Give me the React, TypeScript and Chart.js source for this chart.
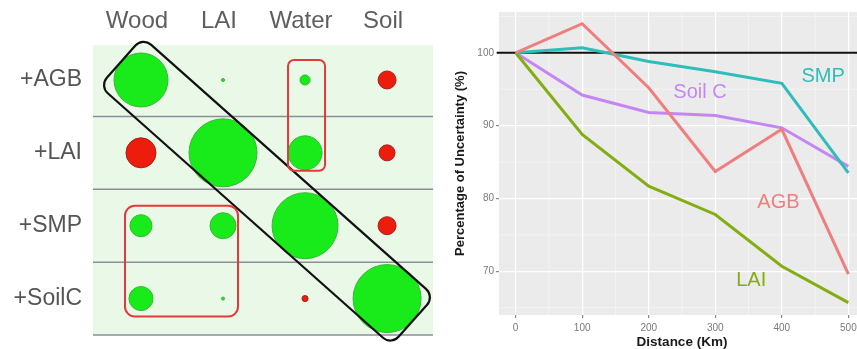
import React, { useEffect, useRef } from "react";
import { Chart, registerables } from "chart.js";

Chart.register(...registerables);
Chart.defaults.font.family = "'Liberation Sans', Arial, sans-serif";

// ---------- Left panel: contribution matrix ----------
const columns = ["Wood", "LAI", "Water", "Soil"];
const rowLabels = ["+AGB", "+LAI", "+SMP", "+SoilC"];
// signed relative contribution (positive = reduction, negative = increase)
const agbRow = [63, 0.2, 2.2, -7];
const laiRow = [-19.5, 100, 25, -5.5];
const smpRow = [10.5, 14.6, 94, -7];
const soilcRow = [12.5, 0.2, -0.8, 100];

// ---------- Right panel: uncertainty vs distance ----------
const distance = [0, 100, 200, 300, 400, 500];
const smp = [100, 100.7, 98.8, 97.4, 95.8, 83.5];
const agb = [100, 104, 95.2, 83.7, 89.5, 69.6];
const soilC = [100, 94.2, 91.8, 91.4, 89.7, 84.4];
const lai = [100, 88.8, 81.7, 77.8, 70.7, 65.7];
const xTicks = [0, 100, 200, 300, 400, 500];
const yTicks = [70, 80, 90, 100];
const xMinor = [50, 150, 250, 350, 450];
const yMinor = [65, 75, 85, 95, 105];
const referenceLevel = 100;

const matrix = [agbRow, laiRow, smpRow, soilcRow];
const bubbleRadius = (v: number) => 34 * Math.sqrt(Math.abs(v) / 100);

function roundRectPath(ctx: CanvasRenderingContext2D, x: number, y: number, w: number, h: number, r: number) {
  ctx.beginPath();
  ctx.moveTo(x + r, y);
  ctx.lineTo(x + w - r, y);
  ctx.arcTo(x + w, y, x + w, y + r, r);
  ctx.lineTo(x + w, y + h - r);
  ctx.arcTo(x + w, y + h, x + w - r, y + h, r);
  ctx.lineTo(x + r, y + h);
  ctx.arcTo(x, y + h, x, y + h - r, r);
  ctx.lineTo(x, y + r);
  ctx.arcTo(x, y, x + r, y, r);
  ctx.closePath();
}

const zeroPad = (s: any) => {
  s.paddingLeft = 0;
  s.paddingRight = 0;
  s.paddingTop = 0;
  s.paddingBottom = 0;
};

function MatrixChart() {
  const ref = useRef<HTMLCanvasElement | null>(null);
  useEffect(() => {
    if (!ref.current) return;
    const points = matrix.flatMap((row, ri) => row.map((v, ci) => ({ x: ci, y: ri, v })));
    const panelPlugin = {
      id: "panel",
      beforeDraw(chart: any) {
        const { ctx, chartArea: a } = chart;
        ctx.save();
        ctx.fillStyle = "#eaf8e8";
        ctx.fillRect(a.left, a.top, a.right - a.left, a.bottom - a.top);
        ctx.restore();
      },
      beforeDatasetsDraw(chart: any) {
        const { ctx, chartArea: a, scales } = chart;
        ctx.save();
        ctx.strokeStyle = "#8d8d98";
        ctx.lineWidth = 1.5;
        rowLabels.forEach((_, i) => {
          const y = scales.y.getPixelForValue(i + 0.5);
          ctx.beginPath();
          ctx.moveTo(a.left, y);
          ctx.lineTo(a.right, y);
          ctx.stroke();
        });
        ctx.restore();
      },
      afterDatasetsDraw(chart: any) {
        const { ctx, scales } = chart;
        const px = (v: number) => scales.x.getPixelForValue(v);
        const py = (v: number) => scales.y.getPixelForValue(v);
        ctx.save();
        // diagonal box
        const x0 = px(0), y0 = py(0), x1 = px(3), y1 = py(3);
        const ang = Math.atan2(y1 - y0, x1 - x0);
        const len = Math.hypot(x1 - x0, y1 - y0);
        ctx.translate(x0, y0);
        ctx.rotate(ang);
        ctx.strokeStyle = "#111";
        ctx.lineWidth = 2.2;
        roundRectPath(ctx, -27, -33, len + 61, 65, 11);
        ctx.stroke();
        ctx.setTransform(1, 0, 0, 1, 0, 0);
        // red boxes
        ctx.strokeStyle = "#e23a3a";
        ctx.lineWidth = 2;
        roundRectPath(ctx, px(2) - 17, py(0) - 20, 37, py(1) + 18 - (py(0) - 20), 6);
        ctx.stroke();
        roundRectPath(ctx, px(0) - 16, py(2) - 20, px(1) + 15 - (px(0) - 16), py(3) + 18 - (py(2) - 20), 10);
        ctx.stroke();
        ctx.restore();
      },
    };
    const chart = new Chart(ref.current, {
      type: "scatter",
      data: {
        datasets: [
          {
            data: points as any,
            pointRadius: (c: any) => (c.raw ? bubbleRadius(c.raw.v) : 3),
            pointHoverRadius: (c: any) => (c.raw ? bubbleRadius(c.raw.v) : 3),
            pointBackgroundColor: (c: any) => (c.raw && c.raw.v < 0 ? "#ec1d0c" : "#19ea19"),
            pointBorderColor: (c: any) => (c.raw && c.raw.v < 0 ? "#a8201a" : "#37b837"),
            pointBorderWidth: 1,
          },
        ],
      },
      options: {
        animation: false,
        responsive: false,
        layout: { autoPadding: false, padding: { left: 0, right: 7, top: 0, bottom: 14 } },
        plugins: { legend: { display: false }, tooltip: { enabled: false } },
        scales: {
          x: {
            type: "linear",
            position: "top",
            min: -0.585,
            max: 3.56,
            afterBuildTicks: (axis: any) => {
              axis.ticks = columns.map((_, i) => ({ value: i }));
            },
            afterFit: (s: any) => {
              s.height = 45;
              zeroPad(s);
            },
            grid: { display: false, drawTicks: false },
            border: { display: false },
            ticks: {
              autoSkip: false,
              maxRotation: 0,
              padding: 9,
              labelOffset: -4,
              color: "#5e5e5e",
              font: { size: 24 },
              callback: (v: any) => columns[v] ?? "",
            },
          },
          y: {
            type: "linear",
            reverse: true,
            min: -0.48,
            max: 3.5,
            afterBuildTicks: (axis: any) => {
              axis.ticks = rowLabels.map((_, i) => ({ value: i }));
            },
            afterFit: (s: any) => {
              s.width = 93;
              zeroPad(s);
            },
            grid: { display: false, drawTicks: false },
            border: { display: false },
            ticks: {
              autoSkip: false,
              padding: 11,
              color: "#555",
              font: { size: 23 },
              callback: (v: any) => rowLabels[v] ?? "",
            },
          },
        },
      },
      plugins: [panelPlugin],
    } as any);
    return () => chart.destroy();
  }, []);
  return <canvas ref={ref} width={440} height={349} style={{ display: "block" }} />;
}

function DistanceChart() {
  const ref = useRef<HTMLCanvasElement | null>(null);
  useEffect(() => {
    if (!ref.current) return;
    const series = [
      { label: "AGB", values: agb, color: "#ef7f7f", anchor: [395, 79.4] },
      { label: "LAI", values: lai, color: "#84ad12", anchor: [354, 68.8] },
      { label: "SMP", values: smp, color: "#2ebdb8", anchor: [462, 96.8] },
      { label: "Soil C", values: soilC, color: "#c487f2", anchor: [277, 94.5] },
    ];
    const panelPlugin = {
      id: "ggpanel",
      beforeDraw(chart: any) {
        const { ctx, chartArea: a } = chart;
        ctx.save();
        ctx.fillStyle = "#ebebeb";
        ctx.fillRect(a.left, a.top, a.right - a.left, a.bottom - a.top);
        ctx.strokeStyle = "rgba(255,255,255,0.7)";
        ctx.lineWidth = 0.6;
        xMinor.forEach((v) => {
          const x = chart.scales.x.getPixelForValue(v);
          ctx.beginPath();
          ctx.moveTo(x, a.top);
          ctx.lineTo(x, a.bottom);
          ctx.stroke();
        });
        yMinor.forEach((v) => {
          const y = chart.scales.y.getPixelForValue(v);
          ctx.beginPath();
          ctx.moveTo(a.left, y);
          ctx.lineTo(a.right, y);
          ctx.stroke();
        });
        ctx.restore();
      },
      beforeDatasetsDraw(chart: any) {
        const { ctx, chartArea: a } = chart;
        const y = chart.scales.y.getPixelForValue(referenceLevel);
        ctx.save();
        ctx.strokeStyle = "#111";
        ctx.lineWidth = 2;
        ctx.beginPath();
        ctx.moveTo(a.left - 2, y);
        ctx.lineTo(a.right, y);
        ctx.stroke();
        ctx.restore();
      },
      afterDatasetsDraw(chart: any) {
        const { ctx } = chart;
        ctx.save();
        ctx.font = "20px 'Liberation Sans', Arial, sans-serif";
        ctx.textAlign = "center";
        ctx.textBaseline = "middle";
        series.forEach((s) => {
          ctx.fillStyle = s.color;
          ctx.fillText(s.label, chart.scales.x.getPixelForValue(s.anchor[0]), chart.scales.y.getPixelForValue(s.anchor[1]));
        });
        ctx.restore();
      },
    };
    const chart = new Chart(ref.current, {
      type: "line",
      data: {
        datasets: series.map((s) => ({
          label: s.label,
          data: distance.map((d, i) => ({ x: d, y: s.values[i] })),
          borderColor: s.color,
          borderWidth: 3,
          pointRadius: 0,
          tension: 0,
          fill: false,
        })),
      },
      options: {
        animation: false,
        responsive: false,
        layout: { autoPadding: false, padding: { left: 0, right: 15, top: 12, bottom: 0 } },
        plugins: { legend: { display: false }, tooltip: { enabled: false } },
        scales: {
          x: {
            type: "linear",
            min: -25,
            max: 525,
            afterBuildTicks: (axis: any) => {
              axis.ticks = xTicks.map((value) => ({ value }));
            },
            afterFit: (s: any) => {
              s.height = 34;
            },
            grid: { color: "#ffffff", lineWidth: 1.2, tickColor: "#888", tickLength: 3, drawTicks: true },
            border: { display: false },
            ticks: { autoSkip: false, maxRotation: 0, padding: 4, color: "#7a7a7a", font: { size: 10 } },
            title: {
              display: true,
              text: "Distance (Km)",
              color: "#1a1a1a",
              font: { size: 13.5, weight: "bold" },
              padding: { top: 0, bottom: -1 },
            },
          },
          y: {
            type: "linear",
            min: 64,
            max: 105.6,
            afterBuildTicks: (axis: any) => {
              axis.ticks = yTicks.map((value) => ({ value }));
            },
            afterFit: (s: any) => {
              s.width = 59;
            },
            grid: { color: "#ffffff", lineWidth: 1.2, tickColor: "#888", tickLength: 3, drawTicks: true },
            border: { display: false },
            ticks: { autoSkip: false, padding: 2, color: "#7a7a7a", font: { size: 10 } },
            title: {
              display: true,
              text: "Percentage of Uncertainty (%)",
              color: "#1a1a1a",
              font: { size: 13, weight: "bold" },
              padding: { top: 13, bottom: 0 },
            },
          },
        },
      },
      plugins: [panelPlugin],
    } as any);
    return () => chart.destroy();
  }, []);
  return <canvas ref={ref} width={440} height={349} style={{ display: "block" }} />;
}

export default function App() {
  return (
    <div
      style={{
        position: "fixed",
        left: 0,
        top: 0,
        width: 857,
        height: 349,
        overflow: "hidden",
        background: "#fff",
      }}
    >
      <div style={{ position: "absolute", left: 0, top: 0, width: 440, height: 349 }}>
        <MatrixChart />
      </div>
      <div style={{ position: "absolute", left: 440, top: 0, width: 440, height: 349 }}>
        <DistanceChart />
      </div>
    </div>
  );
}
